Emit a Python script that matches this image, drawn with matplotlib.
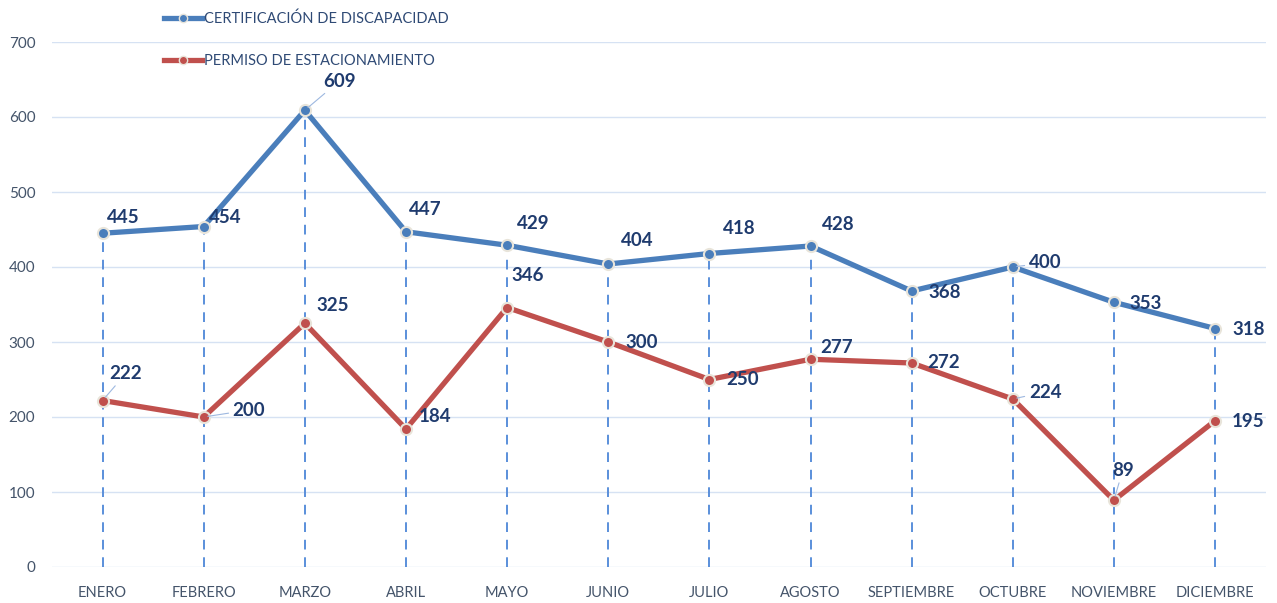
import matplotlib
matplotlib.use("Agg")
import matplotlib.pyplot as plt
from matplotlib.lines import Line2D

months = ["ENERO", "FEBRERO", "MARZO", "ABRIL", "MAYO", "JUNIO", "JULIO",
          "AGOSTO", "SEPTIEMBRE", "OCTUBRE", "NOVIEMBRE", "DICIEMBRE"]
certificacion = [445, 454, 609, 447, 429, 404, 418, 428, 368, 400, 353, 318]
permiso = [222, 200, 325, 184, 346, 300, 250, 277, 272, 224, 89, 195]
series_names = ["CERTIFICACIÓN DE DISCAPACIDAD", "PERMISO DE ESTACIONAMIENTO"]
yticks = [0, 100, 200, 300, 400, 500, 600, 700]

# label offsets in pixels (left edge dx, center dy)
off_cert = [(4, 16), (5, 9), (18, 29), (3, 22), (10, 22), (13, 23), (14, 25),
            (11, 21), (17, -1), (16, 4), (16, -1), (17, -1)]
off_perm = [(7, 27), (29, 7), (12, 18), (13, 12), (4, 32), (17, 0), (17, 0),
            (10, 12), (16, 0), (16, 7), (-2, 30), (17, -1)]
leader_cert = {2, 9}
leader_perm = {0, 1, 9, 10}

plt.rcParams['font.family'] = ['Lato', 'DejaVu Sans']

W, H = 1277, 603
fig = plt.figure(figsize=(W / 100, H / 100), dpi=100)
ax = fig.add_axes([52 / W, 1 - 567 / H, (1265.6 - 52) / W, (567 - 42) / H])

blue = "#4A7EBB"
red = "#C0504D"
lab_col = "#1F3B6E"
tick_col = "#44546A"
x = list(range(len(months)))

ax.set_xlim(-0.5, len(months) - 0.5)
ax.set_ylim(0, 700)
ax.set_yticks(yticks)
ax.grid(axis='y', color="#D6E2F3", lw=1.0)
ax.set_axisbelow(True)
for s in ax.spines.values():
    s.set_visible(False)
ax.tick_params(length=0, colors=tick_col)
ax.tick_params(axis='y', pad=12, labelsize=11)
ax.tick_params(axis='x', pad=14, labelsize=10.5)
ax.set_xticks(x)
ax.set_xticklabels(months)

# drop lines
ax.vlines(x, 0, certificacion, colors="#5A8FDA", linestyles=(0, (5, 4)), lw=1.4, zorder=1)

ax.plot(x, certificacion, color=blue, lw=3.8, marker='o', ms=8,
        mfc=blue, mec="#E8E4DA", mew=1.5, zorder=3)
ax.plot(x, permiso, color=red, lw=3.8, marker='o', ms=8,
        mfc=red, mec="#E8E4DA", mew=1.5, zorder=3)

def label(vals, offs, leaders):
    for i, (v, (dx, dy)) in enumerate(zip(vals, offs)):
        kw = {}
        if i in leaders:
            kw['arrowprops'] = dict(arrowstyle='-', color="#9DB8E0", lw=0.8,
                                    shrinkA=1, shrinkB=3)
        ax.annotate(str(v), (i, v), xytext=(dx, dy), textcoords='offset pixels',
                    ha='left', va='center', fontsize=13.5, fontweight='bold',
                    color=lab_col, zorder=5, **kw)

label(certificacion, off_cert, leader_cert)
label(permiso, off_perm, leader_perm)

handles = [Line2D([], [], color=blue, lw=3.8, marker='o', ms=6, mfc=blue, mec="#E8E4DA"),
           Line2D([], [], color=red, lw=3.8, marker='o', ms=6, mfc=red, mec="#E8E4DA")]
leg = fig.legend(handles, series_names, loc='upper left', bbox_to_anchor=(158 / W, 1 - 6 / H),
                 frameon=False, fontsize=10.5, labelspacing=1.9, handlelength=2.6,
                 handletextpad=0.15, borderaxespad=0)
for t in leg.get_texts():
    t.set_color("#2F4A75")

fig.savefig("out.png", dpi=100)
